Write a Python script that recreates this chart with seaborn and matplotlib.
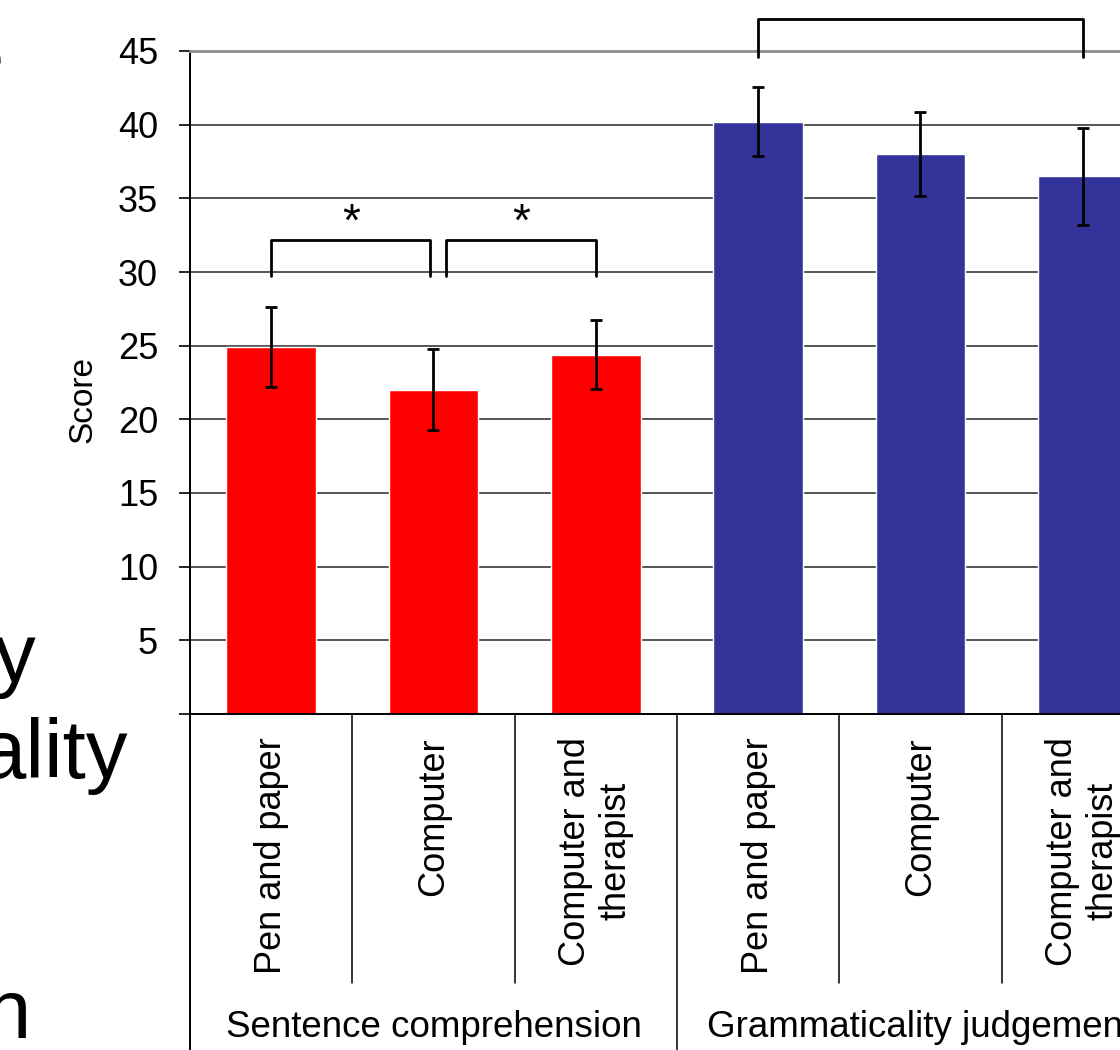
import matplotlib
matplotlib.use("Agg")
import matplotlib.pyplot as plt
import matplotlib.transforms as mtransforms
import numpy as np
import pandas as pd
import seaborn as sns

# Scores per task and training condition
groups = ["Sentence comprehension"] * 3 + ["Grammaticality judgement"] * 3
conditions = ["Pen and paper", "Computer", "Computer and\ntherapist"] * 2
means = [24.9, 22.0, 24.4, 40.2, 38.0, 36.5]
errors = [2.7, 2.75, 2.35, 2.35, 2.85, 3.3]
group_names = ["Sentence comprehension", "Grammaticality judgement"]
group_colors = ["#FF0000", "#333399"]
y_ticks = [0, 5, 10, 15, 20, 25, 30, 35, 40, 45]

# Significance brackets: (x start, x end, top, leg bottom, label)
brackets = [
    (0.0, 0.98, 32.2, 29.7, "*"),
    (1.08, 2.0, 32.2, 29.7, "*"),
    (3.0, 5.0, 47.2, 44.6, ""),
]

sns.set_theme(style="white")
plt.rcParams["font.family"] = ["Liberation Sans", "DejaVu Sans"]
plt.rcParams.update({
    "text.color": "black",
    "axes.labelcolor": "black",
    "xtick.color": "black",
    "ytick.color": "black",
})

df = pd.DataFrame({
    "key": [f"{g}|{c}" for g, c in zip(groups, conditions)],
    "group": groups,
    "score": means,
})
order = list(df["key"])

W, H = 1120, 1050
fig = plt.figure(figsize=(W / 100, H / 100), dpi=100)
ax = fig.add_axes([190 / W, 1 - 714 / H, 974 / W, 663 / H])

sns.barplot(data=df, x="key", y="score", hue="group", order=order,
            hue_order=group_names, palette=group_colors, dodge=False,
            width=0.554, errorbar=None, legend=False, saturation=1,
            ax=ax, zorder=2)
ax.errorbar(np.arange(len(means)), means, yerr=errors, fmt="none",
            ecolor="black", elinewidth=2, capsize=4.5, capthick=2, zorder=3)

ax.set_xlim(-0.5, 5.5)
ax.set_ylim(0, 45)
ax.set_yticks(y_ticks, ["" if v == 0 else str(v) for v in y_ticks])
ax.tick_params(axis="y", which="major", direction="out", length=8, width=1.2,
               color="black", pad=15, labelsize=26, left=True,
               labelcolor="black")
ax.yaxis.grid(True, color="#262626", linewidth=1.1)
ax.set_axisbelow(True)

ax.set_xticks(range(len(conditions)), conditions, rotation=90,
              multialignment="center", fontsize=26)
ax.tick_params(axis="x", length=0, pad=16.5, labelcolor="black")
ax.set_xlabel("")
ax.set_ylabel("Score", fontsize=24, color="black")
ax.yaxis.set_label_coords(-0.094, 0.475)

ax.spines["right"].set_visible(False)
ax.spines["left"].set_visible(False)
ax.spines["top"].set_color("#8c8c8c")
ax.spines["top"].set_linewidth(2)
ax.spines["bottom"].set_color("black")
ax.spines["bottom"].set_linewidth(1.4)

# Category and group separators below the axis
trans = mtransforms.blended_transform_factory(ax.transData, ax.transAxes)
ax.plot([-0.5, -0.5], [1, -0.51], transform=trans, color="black",
        lw=1.4, clip_on=False)
for xb in [0.5, 1.5, 3.5, 4.5]:
    ax.plot([xb, xb], [0, -0.406], transform=trans, color="black",
            lw=1.1, clip_on=False)
ax.plot([2.5, 2.5], [0, -0.51], transform=trans, color="black",
        lw=1.1, clip_on=False)

for i, name in enumerate(group_names):
    ax.text(1 + 3 * i, -0.4736, name, transform=trans, ha="center",
            va="center", fontsize=26.5, color="black", clip_on=False)

for x0, x1, top, bottom, label in brackets:
    ax.plot([x0, x0, x1, x1], [bottom, top, top, bottom], color="black",
            lw=2, clip_on=False, zorder=4)
    if label:
        ax.text((x0 + x1) / 2, top + 0.25, label, ha="center",
                va="baseline", fontsize=33, color="black", clip_on=False)

# Slide text running in from the left edge
for txt, xr, yb in [("e", 4, 84), ("y", 36, 682), ("ality", 128, 778),
                    ("n", 31, 1038)]:
    fig.text(xr / W, 1 - yb / H, txt, ha="right", va="baseline",
             fontsize=60, color="black")

fig.savefig("out.png", dpi=100)
